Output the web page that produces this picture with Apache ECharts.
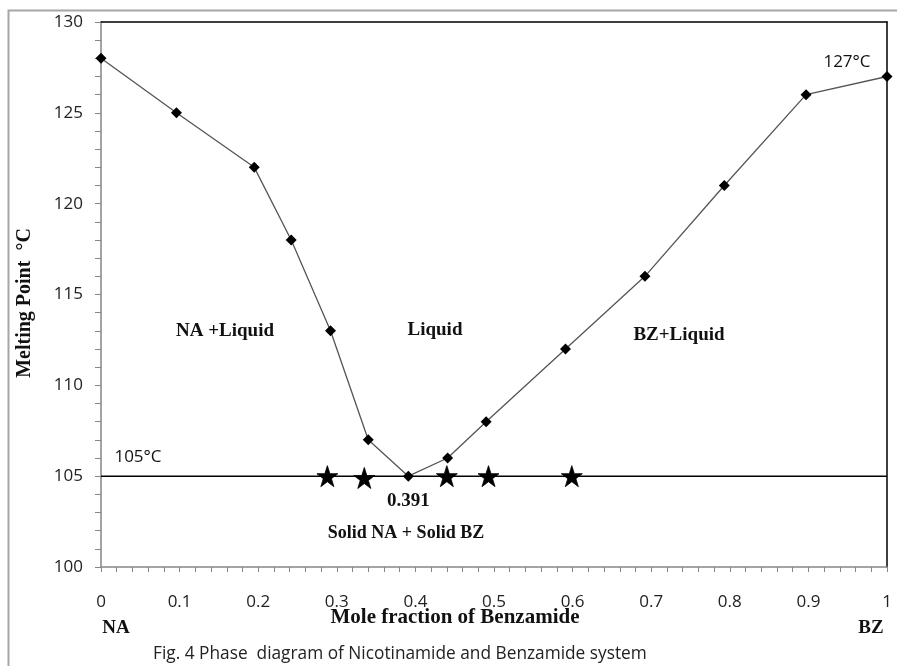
<!DOCTYPE html>
<html>
<head>
<meta charset="utf-8">
<script src="https://cdn.jsdelivr.net/npm/echarts@6/dist/echarts.min.js"></script>
<style>html,body{margin:0;padding:0;background:#fff}#c{width:897px;height:666px}</style>
</head>
<body>
<div id="c"></div>
<script>
// Liquidus data (mole fraction of benzamide, melting point °C)
var molFraction = [0, 0.096, 0.195, 0.242, 0.292, 0.340, 0.391, 0.441, 0.490, 0.591, 0.692, 0.793, 0.897, 1];
var meltingPoint = [128, 125, 122, 118, 113, 107, 105, 106, 108, 112, 116, 121, 126, 127];
// Solidus (eutectic) measurements shown as stars
var starX = [0.288, 0.335, 0.440, 0.493, 0.599];
var starY = [105, 104.9, 105, 105, 105];
// Eutectic horizontal line
var eutecticX = [0, 1];
var eutecticY = [105, 105];
var eutecticPoint = 0.391;
// Axis ticks
var xTicks = [0, 0.1, 0.2, 0.3, 0.4, 0.5, 0.6, 0.7, 0.8, 0.9, 1];
var yTicks = [100, 105, 110, 115, 120, 125, 130];

var zip = function (a, b) { return a.map(function (v, i) { return [v, b[i]]; }); };
var SANS = '"Open Sans", sans-serif';
var SERIF = '"Liberation Serif", "DejaVu Serif", serif';
var STAR = 'path://M50,0 L61.8,35.4 L99,35.4 L69,57.3 L80.4,92.7 L50,70.8 L19.6,92.7 L31,57.3 L1,35.4 L38.2,35.4 Z';

var chart = echarts.init(document.getElementById('c'), null, {renderer: 'canvas'});
function txt(text, x, y, font, extra) {
  var o = {type: 'text', x: x, y: y, z: 100,
    style: {text: text, x: 0, y: 0, textAlign: 'center', textVerticalAlign: 'middle', font: font, fill: '#111'}};
  if (extra) for (var k in extra) o[k] = extra[k];
  return o;
}
var option = {
  animation: false,
  backgroundColor: '#fff',
  grid: {left: 101, right: 10, top: 22, bottom: 99, show: false},
  xAxis: [{
    type: 'value', min: 0, max: 1, interval: 0.1,
    axisLine: {show: true, lineStyle: {color: '#868686', width: 1.5}},
    axisTick: {show: true, length: 5, lineStyle: {color: '#868686'}},
    minorTick: {show: true, splitNumber: 5, length: 5, lineStyle: {color: '#868686'}},
    splitLine: {show: false},
    axisLabel: {margin: 27, color: '#222', fontFamily: SANS, fontSize: 17,
      formatter: function (v) { var r = Math.round(v * 10) / 10; return xTicks.indexOf(r) >= 0 ? String(r) : ''; }}
  }, {
    type: 'value', position: 'top', min: 0, max: 1,
    axisLine: {show: true, onZero: false, lineStyle: {color: '#000', width: 1.5}},
    axisTick: {show: false}, axisLabel: {show: false}, splitLine: {show: false}
  }],
  yAxis: [{
    type: 'value', min: 100, max: 130, interval: 5,
    axisLine: {show: true, lineStyle: {color: '#868686', width: 1.5}},
    axisTick: {show: true, length: 6, lineStyle: {color: '#868686'}},
    minorTick: {show: true, splitNumber: 5, length: 6, lineStyle: {color: '#868686'}},
    splitLine: {show: false},
    axisLabel: {margin: 18, color: '#222', fontFamily: SANS, fontSize: 17,
      formatter: function (v) { return yTicks.indexOf(v) >= 0 ? String(v) : ''; }}
  }, {
    type: 'value', position: 'right', min: 100, max: 130,
    axisLine: {show: true, onZero: false, lineStyle: {color: '#000', width: 1.5}},
    axisTick: {show: false}, axisLabel: {show: false}, splitLine: {show: false}
  }],
  series: [{
    type: 'line', data: zip(eutecticX, eutecticY), symbol: 'none',
    lineStyle: {color: '#000', width: 1.5}, z: 2, silent: true
  }, {
    type: 'line', data: zip(molFraction, meltingPoint),
    symbol: 'diamond', symbolSize: [11, 11],
    itemStyle: {color: '#000'},
    lineStyle: {color: '#555', width: 1.3}, z: 3,
    label: {show: true, position: 'bottom', distance: 10, fontFamily: SERIF, fontWeight: 'bold', fontSize: 19, color: '#111',
      formatter: function (p) { return p.value[0] === eutecticPoint ? '0.391' : ''; }}
  }, {
    type: 'scatter', data: zip(starX, starY), symbol: STAR, symbolSize: 21,
    itemStyle: {color: '#000', opacity: 1, borderColor: '#000', borderWidth: 0.8}, z: 4
  }],
  graphic: [
    {type: 'rect', shape: {x: 8.5, y: 10.5, width: 1200, height: 1200}, style: {fill: 'none', stroke: '#a6a6a6', lineWidth: 2}, z: 0, silent: true},
    txt('127°C', 847, 62, '17px ' + SANS),
    txt('105°C', 138, 457, '17px ' + SANS),
    txt('NA +Liquid', 225, 331, 'bold 19px ' + SERIF),
    txt('Liquid', 435, 330, 'bold 19px ' + SERIF),
    txt('BZ+Liquid', 679, 335, 'bold 19px ' + SERIF),
    txt('Solid NA + Solid BZ', 406, 533, 'bold 18px ' + SERIF),
    txt('Mole fraction of Benzamide', 455, 618, 'bold 21px ' + SERIF),
    txt('NA', 116, 628, 'bold 19px ' + SERIF),
    txt('BZ', 871, 628, 'bold 19px ' + SERIF),
    txt('Melting Point  °C', 25, 303, 'bold 20px ' + SERIF, {rotation: Math.PI / 2}),
    {type: 'text', x: 153, y: 654, z: 100, style: {text: 'Fig. 4 Phase  diagram of Nicotinamide and Benzamide system', x: 0, y: 0,
      textAlign: 'left', textVerticalAlign: 'middle', font: '17.3px ' + SANS, fill: '#222'}}
  ]
};
chart.setOption(option);
</script>
</body>
</html>
